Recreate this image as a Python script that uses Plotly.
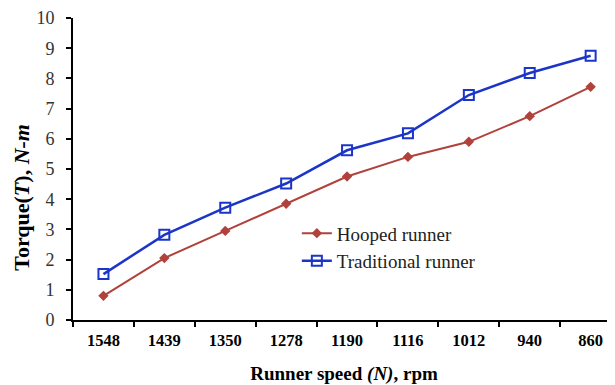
import plotly.graph_objects as go

speeds = ["1548", "1439", "1350", "1278", "1190", "1116", "1012", "940", "860"]
hooped = [0.8, 2.05, 2.95, 3.85, 4.75, 5.4, 5.9, 6.75, 7.72]
traditional = [1.52, 2.82, 3.72, 4.52, 5.62, 6.18, 7.45, 8.18, 8.75]

font_family = "Liberation Serif, Times New Roman, serif"

fig = go.Figure()
fig.add_trace(go.Scatter(
    x=speeds, y=hooped, name="Hooped runner", mode="lines+markers",
    line=dict(color="#B0413B", width=2),
    marker=dict(symbol="diamond", size=8, color="#B0413B"),
))
fig.add_trace(go.Scatter(
    x=speeds, y=traditional, name="Traditional runner", mode="lines+markers",
    line=dict(color="#1B35C8", width=2.5),
    marker=dict(symbol="square-open", size=10, color="#1B35C8", line=dict(width=2, color="#1B35C8")),
))

# page body has an 8px default margin, so the figure is sized/offset to compensate
fig.update_layout(
    width=607, height=377,
    margin=dict(l=65, r=0, t=10, b=65),
    paper_bgcolor="white", plot_bgcolor="white",
    font=dict(family=font_family, color="black"),
    showlegend=True,
    legend=dict(x=0.413, y=0.35, xanchor="left", yanchor="top",
                font=dict(size=19, family=font_family, color="#222"),
                bgcolor="rgba(0,0,0,0)", tracegroupgap=0, itemwidth=30),
    xaxis=dict(
        type="category", range=[-0.5, 8.4], automargin=False,
        showline=True, linecolor="black", linewidth=2,
        ticks="outside", tickson="boundaries", ticklen=5, tickwidth=2, tickcolor="black",
        showgrid=False, zeroline=False, ticklabelstandoff=4,
        tickfont=dict(size=16.5, family=font_family, color="black", weight="bold"),
        title=dict(text="<b>Runner speed <i>(N)</i>, rpm</b>", font=dict(size=19, family=font_family), standoff=19),
    ),
    yaxis=dict(
        range=[0, 10], dtick=1, automargin=False,
        showline=True, linecolor="black", linewidth=2,
        ticks="outside", ticklen=5, tickwidth=2, tickcolor="black",
        showgrid=False, zeroline=False, ticklabelstandoff=8,
        tickfont=dict(size=18, family=font_family, color="#333"),
    ),
    annotations=[dict(
        text="<b>Torque(<i>T</i>), <i>N-m</i></b>", textangle=-90,
        xref="paper", yref="paper", x=-0.094, y=0.405,
        xanchor="center", yanchor="middle", showarrow=False,
        font=dict(size=22, family=font_family, color="black"),
    )],
)

fig.write_html("out.html")
